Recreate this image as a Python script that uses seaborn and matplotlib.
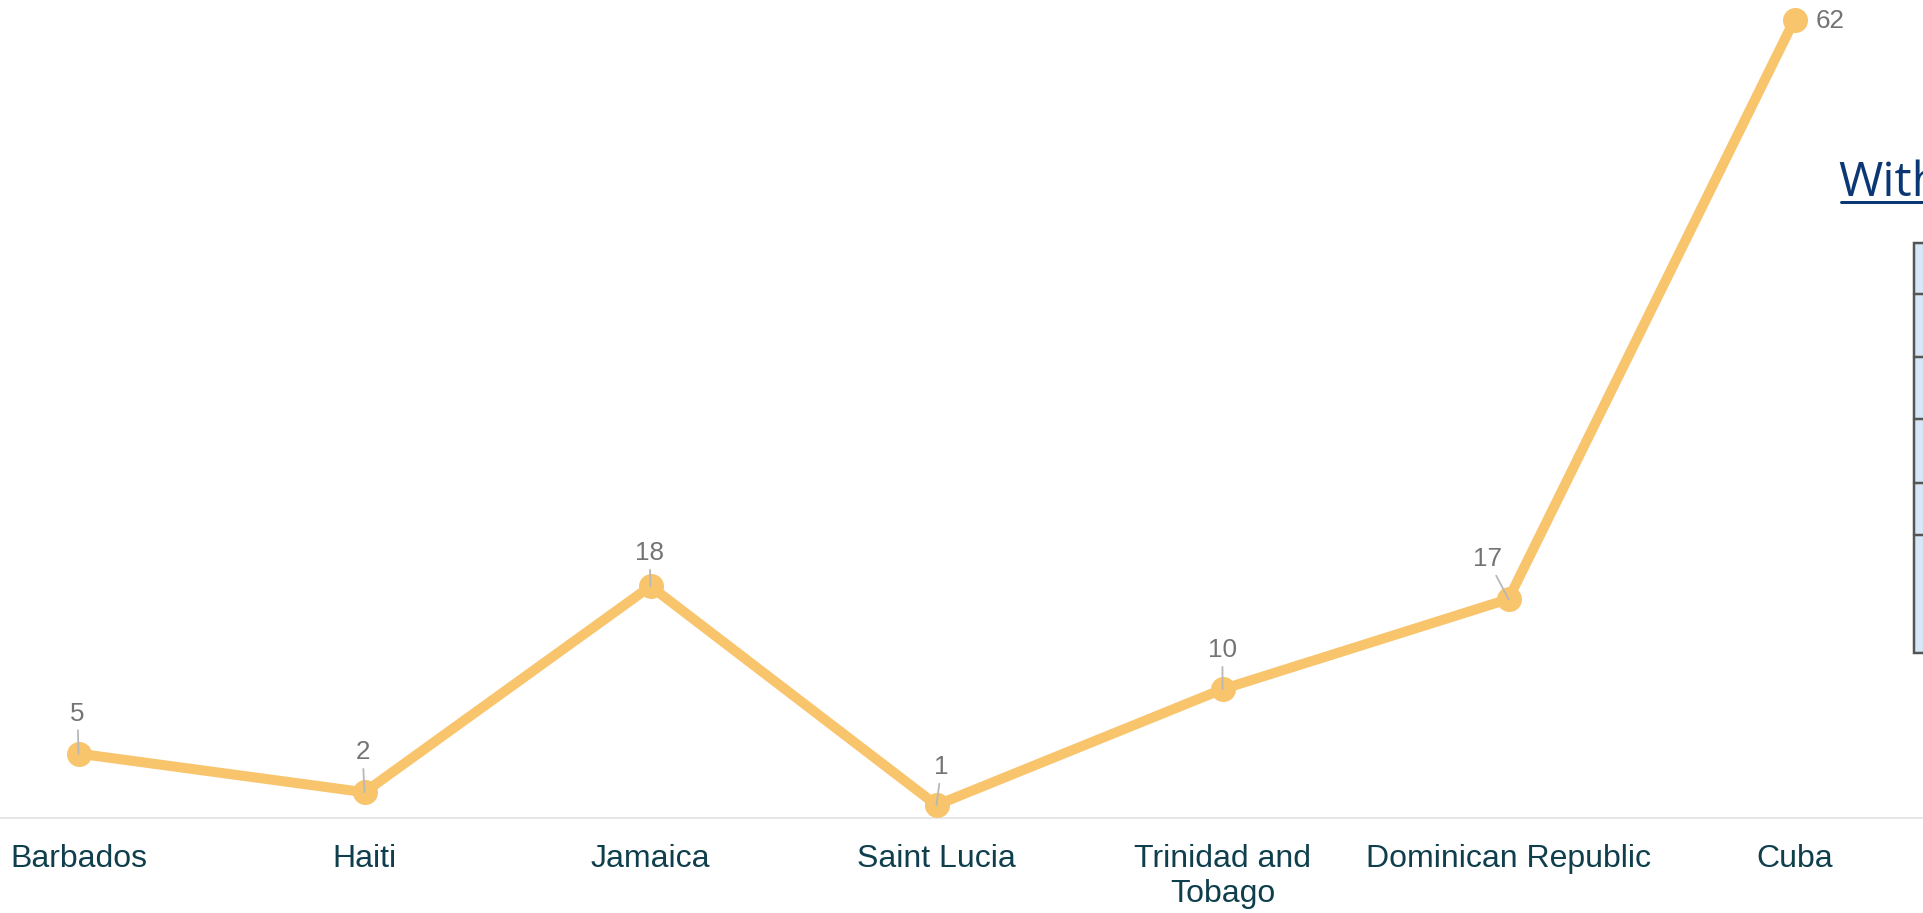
import matplotlib
matplotlib.use("Agg")
import matplotlib.pyplot as plt
from matplotlib.patches import Rectangle
from matplotlib.lines import Line2D
import seaborn as sns
import pandas as pd

# ---- data ----
countries = ["Barbados", "Haiti", "Jamaica", "Saint Lucia",
             "Trinidad and\nTobago", "Dominican Republic", "Cuba"]
values = [5, 2, 18, 1, 10, 17, 62]
value_labels = ["5", "2", "18", "1", "10", "17", "62"]
side_heading = "With"

# label offsets in pixels (dx, dy) relative to the point
label_offsets = [(-1, 40), (-2, 40), (-1, 33), (5, 38), (0, 39), (-21, 40), (36, -1)]
draw_connector = [True, True, True, True, True, True, False]

W, H, DPI = 1923, 913, 100
sns.set_theme(style="white")
plt.rcParams["font.family"] = ["Liberation Sans", "DejaVu Sans"]

fig = plt.figure(figsize=(W / DPI, H / DPI), dpi=DPI)
fig.patch.set_facecolor("white")

base_px = 818  # baseline from top
ax = fig.add_axes([0, (H - base_px) / H, 1, base_px / H])
ax.set_facecolor("none")

df = pd.DataFrame({"x": range(len(countries)), "value": values})
LINE_COLOR = "#f8c46c"
sns.lineplot(data=df, x="x", y="value", ax=ax, color=LINE_COLOR,
             linewidth=10 * 0.72, marker="o", markersize=25 * 0.72,
             markeredgewidth=0, markerfacecolor=LINE_COLOR, sort=False,
             clip_on=False, zorder=3)
for ln in ax.lines:
    ln.set_solid_capstyle("round")
    ln.set_solid_joinstyle("round")

px_per_unit = (base_px - 19.6) / 62
ax.set_ylim(0, base_px / px_per_unit)
cat_px = 286
ax.set_xlim(-78.5 / cat_px, -78.5 / cat_px + W / cat_px)

for s in ["top", "left", "right"]:
    ax.spines[s].set_visible(False)
ax.spines["bottom"].set_color("#e6e6e6")
ax.spines["bottom"].set_linewidth(2 * 0.72)
ax.set_yticks([])
ax.set_xticks(range(len(countries)))
ax.set_xticklabels(countries, fontsize=32 * 0.72, color="#0f3f4c",
                   linespacing=1.22)
ax.tick_params(axis="x", length=0, pad=19)
ax.set_xlabel("")
ax.set_ylabel("")

for i, (v, lab) in enumerate(zip(values, value_labels)):
    dx, dy = label_offsets[i]
    ap = dict(arrowstyle="-", color="#b8b8b8", lw=1.3, shrinkA=1, shrinkB=0) if draw_connector[i] else None
    ax.annotate(lab, xy=(i, v), xytext=(dx, dy), textcoords="offset pixels",
                ha="center", va="center", fontsize=26 * 0.72, color="#747474",
                arrowprops=ap, zorder=5, annotation_clip=False)

# ---- right side page fragment ----
def fx(px):
    return px / W

def fy(py):
    return 1 - py / H

fig.text(fx(1838), fy(196), side_heading, fontsize=48 * 0.72, color="#0b3874",
         family=["Open Sans", "DejaVu Sans"], ha="left", va="baseline")
fig.add_artist(Line2D([fx(1841), fx(1930)], [fy(202), fy(202)],
                      transform=fig.transFigure, color="#0b3874", lw=3 * 0.72))

top, bottom, left = 243, 653, 1914
fig.add_artist(Rectangle((fx(left), fy(bottom)), fx(1940) - fx(left), fy(top) - fy(bottom),
                         transform=fig.transFigure, facecolor="#d6e8f8",
                         edgecolor="#555555", lw=2.5 * 0.72))
for yy in [294, 357, 419, 483, 535]:
    fig.add_artist(Line2D([fx(left), fx(1930)], [fy(yy), fy(yy)],
                          transform=fig.transFigure, color="#555555", lw=2.5 * 0.72))

fig.savefig("out.png", dpi=DPI, facecolor="white")
